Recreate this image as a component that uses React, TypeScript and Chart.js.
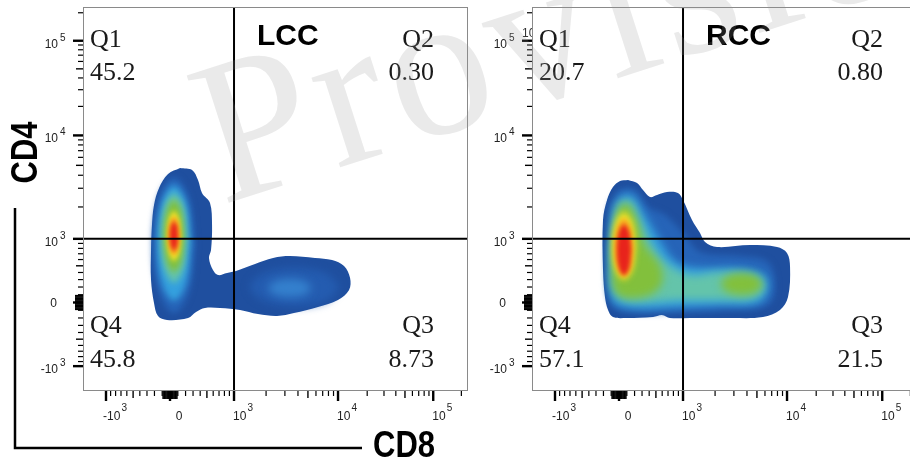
import { useEffect, useRef } from 'react';
import { Chart, registerables } from 'chart.js';

// ---------------- data ----------------
const panelTitles = ['LCC', 'RCC'];
const quadrantNames = ['Q1', 'Q2', 'Q3', 'Q4'];
const lccQuadrantValues = ['45.2', '0.30', '8.73', '45.8'];
const rccQuadrantValues = ['20.7', '0.80', '21.5', '57.1'];
const xAxisTitle = 'CD8';
const yAxisTitle = 'CD4';
const watermarkText = 'Provisional';
const gateCD8 = 1000;
const gateCD4 = 1000;

const majorTickValues = [-1000, 0, 1000, 10000, 100000];
const majorTickLabels = [['-10', '3'], ['0', ''], ['10', '3'], ['10', '4'], ['10', '5']];
const mediumTickValues = [-500, 500, 5000, 50000];
const minorTickValues = [
  -900, -800, -700, -600, -400, -300, -200, -100,
  100, 200, 300, 400, 600, 700, 800, 900,
  2000, 3000, 4000, 6000, 7000, 8000, 9000,
  20000, 30000, 40000, 60000, 70000, 80000, 90000, 200000,
];
const nearZeroTickValues = [-90, -80, -70, -60, -50, -40, -30, -20, -10, 10, 20, 30, 40, 50, 60, 70, 80, 90];

// display range (logicle display units)
const displayRangeX = [1.2585, 5.398];
const displayRangeY = [1.237, 5.389];

// density contour levels in display units [CD8, CD4]
const lccOuter = [[2.302,3.648],[2.431,3.626],[2.495,3.518],[2.538,3.378],[2.624,3.269],[2.646,3.032],[2.635,2.761],[2.613,2.675],[2.656,2.545],[2.710,2.491],[2.807,2.513],[2.904,2.534],[3.108,2.610],[3.302,2.675],[3.484,2.696],[3.753,2.675],[3.936,2.653],[4.065,2.588],[4.130,2.459],[4.119,2.329],[4.000,2.221],[3.785,2.145],[3.527,2.080],[3.345,2.048],[3.140,2.069],[2.947,2.113],[2.732,2.134],[2.570,2.134],[2.474,2.091],[2.388,2.026],[2.162,2.005],[2.065,2.048],[2.022,2.188],[1.990,2.437],[1.990,2.761],[2.000,3.032],[2.022,3.248],[2.076,3.432],[2.173,3.583]];
const lccTailMid = [[4.022,2.361],[3.880,2.216],[3.538,2.156],[3.196,2.216],[3.054,2.361],[3.196,2.506],[3.538,2.566],[3.880,2.506]];
const lccTailCore = [[3.721,2.350],[3.652,2.281],[3.484,2.253],[3.316,2.281],[3.247,2.350],[3.316,2.419],[3.484,2.447],[3.652,2.419]];
const lccMid = [[2.463,2.815],[2.397,2.295],[2.237,2.080],[2.077,2.295],[2.011,2.815],[2.077,3.335],[2.237,3.550],[2.397,3.335]];
const lccLight = [[2.420,2.837],[2.366,2.394],[2.237,2.210],[2.108,2.394],[2.054,2.837],[2.108,3.280],[2.237,3.464],[2.366,3.280]];
const lccCyan = [[2.377,2.891],[2.336,2.547],[2.237,2.405],[2.138,2.547],[2.097,2.891],[2.138,3.235],[2.237,3.377],[2.336,3.235]];
const lccGreen = [[2.345,2.913],[2.313,2.638],[2.237,2.524],[2.161,2.638],[2.129,2.913],[2.161,3.188],[2.237,3.302],[2.313,3.188]];
const lccYellow = [[2.312,2.913],[2.290,2.722],[2.237,2.643],[2.184,2.722],[2.162,2.913],[2.184,3.104],[2.237,3.183],[2.290,3.104]];
const lccOrange = [[2.296,2.913],[2.279,2.768],[2.237,2.708],[2.195,2.768],[2.178,2.913],[2.195,3.058],[2.237,3.118],[2.279,3.058]];
const lccRed = [[2.280,2.913],[2.267,2.806],[2.237,2.762],[2.207,2.806],[2.194,2.913],[2.207,3.020],[2.237,3.064],[2.267,3.020]];

const rccOuter = [[2.291,3.518],[2.388,3.486],[2.452,3.410],[2.527,3.334],[2.603,3.356],[2.710,3.388],[2.828,3.378],[2.882,3.302],[2.979,3.086],[3.065,2.945],[3.119,2.848],[3.248,2.794],[3.603,2.815],[3.893,2.794],[4.000,2.729],[4.033,2.578],[4.011,2.253],[3.925,2.113],[3.742,2.037],[3.388,2.026],[2.957,2.026],[2.742,2.026],[2.656,2.059],[2.560,2.037],[2.280,2.026],[2.129,2.037],[2.076,2.113],[2.043,2.253],[2.022,2.545],[2.022,3.086],[2.065,3.302],[2.129,3.442],[2.205,3.507]];
const rccMid = [[2.087,3.248],[2.205,3.410],[2.366,3.410],[2.506,3.226],[2.689,3.140],[2.904,2.923],[3.065,2.740],[3.495,2.696],[3.796,2.632],[3.872,2.383],[3.796,2.167],[3.388,2.113],[2.850,2.091],[2.312,2.091],[2.119,2.167],[2.065,2.545]];
const rccLight = [[2.119,3.140],[2.205,3.334],[2.334,3.356],[2.474,3.140],[2.635,2.869],[2.807,2.632],[3.065,2.567],[3.495,2.567],[3.764,2.491],[3.796,2.329],[3.689,2.188],[3.280,2.167],[2.850,2.145],[2.312,2.134],[2.119,2.221],[2.087,2.653]];
const rccCyan = [[2.129,3.032],[2.205,3.269],[2.312,3.291],[2.420,3.086],[2.549,2.815],[2.689,2.632],[2.957,2.491],[3.280,2.523],[3.656,2.480],[3.753,2.361],[3.656,2.242],[3.280,2.221],[2.850,2.221],[2.312,2.199],[2.151,2.296],[2.108,2.653]];
const rccGreen = [[2.140,2.978],[2.194,3.226],[2.291,3.259],[2.388,3.086],[2.474,2.815],[2.635,2.599],[2.656,2.405],[2.527,2.275],[2.259,2.242],[2.140,2.329],[2.119,2.653]];
const rccTailGreen = [[3.743,2.394],[3.677,2.310],[3.517,2.275],[3.357,2.310],[3.291,2.394],[3.357,2.478],[3.517,2.513],[3.677,2.478]];
const rccYellow = [[2.377,2.805],[2.339,2.545],[2.248,2.437],[2.157,2.545],[2.119,2.805],[2.157,3.065],[2.248,3.173],[2.339,3.065]];
const rccOrange = [[2.345,2.783],[2.317,2.561],[2.248,2.469],[2.179,2.561],[2.151,2.783],[2.179,3.005],[2.248,3.097],[2.317,3.005]];
const rccRed = [[2.323,2.761],[2.301,2.570],[2.248,2.491],[2.195,2.570],[2.173,2.761],[2.195,2.952],[2.248,3.031],[2.301,2.952]];

// ---------------- styles ----------------
const C_OUTER = 'rgb(31,79,159)';
const C_MID = 'rgb(38,100,184)';
const C_TAILMID = 'rgb(36,92,176)';
const C_TAILCORE = 'rgb(52,128,205)';
const C_LIGHT = 'rgb(52,160,222)';
const C_CYAN = 'rgb(100,196,170)';
const C_GREEN = 'rgb(130,192,60)';
const C_YELLOW = 'rgb(244,226,40)';
const C_ORANGE = 'rgb(246,150,30)';
const C_RED = 'rgb(232,35,28)';

const panelLevels = [
  [
    { pts: lccOuter, color: C_OUTER, blur: 0 },
    { pts: lccTailMid, color: C_TAILMID, blur: 4 },
    { pts: lccTailCore, color: C_TAILCORE, blur: 4 },
    { pts: lccMid, color: C_MID, blur: 3 },
    { pts: lccLight, color: C_LIGHT, blur: 3 },
    { pts: lccCyan, color: C_CYAN, blur: 3 },
    { pts: lccGreen, color: C_GREEN, blur: 3 },
    { pts: lccYellow, color: C_YELLOW, blur: 2.5 },
    { pts: lccOrange, color: C_ORANGE, blur: 2 },
    { pts: lccRed, color: C_RED, blur: 2 },
  ],
  [
    { pts: rccOuter, color: C_OUTER, blur: 0 },
    { pts: rccMid, color: C_MID, blur: 3 },
    { pts: rccLight, color: C_LIGHT, blur: 4 },
    { pts: rccCyan, color: C_CYAN, blur: 4 },
    { pts: rccGreen, color: C_GREEN, blur: 4 },
    { pts: rccTailGreen, color: C_GREEN, blur: 4 },
    { pts: rccYellow, color: C_YELLOW, blur: 3 },
    { pts: rccOrange, color: C_ORANGE, blur: 2.5 },
    { pts: rccRed, color: C_RED, blur: 2 },
  ],
];

// ---------------- logicle transform ----------------
const LOGICLE_C = 146.8;
const LOGICLE_P = 2.5;
const ZERO_DISPLAY = 2.194;
function logicleS(u: number) {
  const a = Math.abs(u);
  const p2 = LOGICLE_P * LOGICLE_P;
  const v = LOGICLE_C * (Math.pow(10, a) - p2 * Math.pow(10, -a / LOGICLE_P) + p2 - 1);
  return u < 0 ? -v : v;
}
function toDisplay(x: number) {
  let lo = -5, hi = 6;
  for (let i = 0; i < 80; i++) {
    const m = (lo + hi) / 2;
    if (logicleS(m) < x) lo = m; else hi = m;
  }
  return ZERO_DISPLAY + (lo + hi) / 2;
}

const blurPlugin = {
  id: 'densityBlur',
  beforeDatasetDraw(chart: any, args: any) {
    const ds = chart.data.datasets[args.index];
    if (ds && ds.blurRadius) {
      chart.ctx.save();
      chart.ctx.filter = `blur(${ds.blurRadius}px)`;
    }
  },
  afterDatasetDraw(chart: any, args: any) {
    const ds = chart.data.datasets[args.index];
    if (ds && ds.blurRadius) chart.ctx.restore();
  },
};
Chart.register(blurPlugin);
Chart.register(...registerables);

const SANS = '"Liberation Sans", Arial, sans-serif';
const SERIF = '"Liberation Serif", "Times New Roman", serif';

function drawWatermark(ctx: CanvasRenderingContext2D, offsetX: number) {
  ctx.save();
  ctx.translate(222 - offsetX, 205);
  ctx.rotate(-0.31);
  ctx.font = `205px ${SERIF}`;
  (ctx as any).letterSpacing = '6px';
  ctx.fillStyle = 'rgba(150,150,150,0.2)';
  ctx.textAlign = 'left';
  ctx.textBaseline = 'alphabetic';
  ctx.fillText(watermarkText, 0, 0);
  ctx.restore();
}

function makePlugin(index: number, offsetX: number) {
  return {
    id: 'flowAxes' + index,
    afterDraw(chart: any) {
      const ctx: CanvasRenderingContext2D = chart.ctx;
      const a = chart.chartArea;
      const xs = chart.scales.x;
      const ys = chart.scales.y;
      const xp = (v: number) => xs.getPixelForValue(toDisplay(v));
      const yp = (v: number) => ys.getPixelForValue(toDisplay(v));
      ctx.save();
      // frame
      ctx.strokeStyle = '#8a8a8a';
      ctx.lineWidth = 1;
      ctx.strokeRect(a.left + 0.5, a.top + 0.5, a.right - a.left - 1, a.bottom - a.top - 1);
      // ticks
      ctx.strokeStyle = '#000';
      const tick = (v: number, len: number, w: number) => {
        const px = xp(v);
        if (px >= a.left - 1 && px <= a.right + 1) {
          ctx.lineWidth = w;
          ctx.beginPath();
          ctx.moveTo(px, a.bottom);
          ctx.lineTo(px, a.bottom + len);
          ctx.stroke();
        }
        const py = yp(v);
        if (py >= a.top - 1 && py <= a.bottom + 1) {
          ctx.lineWidth = w;
          ctx.beginPath();
          ctx.moveTo(a.left, py);
          ctx.lineTo(a.left - len, py);
          ctx.stroke();
        }
      };
      minorTickValues.forEach((v) => tick(v, 5, 1.2));
      nearZeroTickValues.forEach((v) => tick(v, 8, 1.2));
      mediumTickValues.forEach((v) => tick(v, 7, 1.4));
      majorTickValues.forEach((v) => tick(v, 10, 2.4));
      // tick labels
      ctx.fillStyle = '#222';
      ctx.textBaseline = 'alphabetic';
      majorTickValues.forEach((v, i) => {
        const [base, sup] = majorTickLabels[i];
        ctx.font = `12px ${SANS}`;
        const wb = ctx.measureText(base).width;
        ctx.font = `10px ${SANS}`;
        const ws = sup ? ctx.measureText(sup).width + 1 : 0;
        // x axis
        const px = xp(v);
        const left = px + 9 - (wb + ws) / 2;
        ctx.textAlign = 'left';
        ctx.font = `12px ${SANS}`;
        ctx.fillText(base, left, a.bottom + 29);
        if (sup) {
          ctx.font = `10px ${SANS}`;
          ctx.fillText(sup, left + wb + 1, a.bottom + 20);
        }
        // y axis
        const py = yp(v);
        if (sup) {
          ctx.font = `12px ${SANS}`;
          ctx.textAlign = 'right';
          ctx.fillText(base, a.left - 25, py + 7);
          ctx.font = `10px ${SANS}`;
          ctx.textAlign = 'left';
          ctx.fillText(sup, a.left - 23, py);
        } else {
          ctx.font = `12px ${SANS}`;
          ctx.textAlign = 'center';
          ctx.fillText(base, a.left - 29.5, py + 4.5);
        }
      });
      // quadrant labels
      const vals = index === 0 ? lccQuadrantValues : rccQuadrantValues;
      ctx.fillStyle = '#1a1a1a';
      ctx.font = `26px ${SERIF}`;
      ctx.textAlign = 'left';
      ctx.fillText(quadrantNames[0], a.left + 7, a.top + 40);
      ctx.fillText(vals[0], a.left + 7, a.top + 73);
      ctx.fillText(quadrantNames[3], a.left + 7, a.top + 326);
      ctx.fillText(vals[3], a.left + 7, a.top + 360);
      ctx.textAlign = 'right';
      ctx.fillText(quadrantNames[1], a.left + 351, a.top + 40);
      ctx.fillText(vals[1], a.left + 351, a.top + 73);
      ctx.fillText(quadrantNames[2], a.left + 351, a.top + 326);
      ctx.fillText(vals[2], a.left + 351, a.top + 360);
      // title
      ctx.fillStyle = '#000';
      ctx.font = `bold 30px ${SANS}`;
      ctx.textAlign = 'left';
      ctx.fillText(panelTitles[index], xp(gateCD8) + 23, a.top + 38);

      if (index === 0) {
        // outer axis titles with L-shaped bracket
        ctx.strokeStyle = '#000';
        ctx.lineWidth = 2.5;
        ctx.beginPath();
        ctx.moveTo(15, 208);
        ctx.lineTo(15, 448);
        ctx.lineTo(362, 448);
        ctx.stroke();
        ctx.fillStyle = '#000';
        ctx.font = `bold 31px ${SANS}`;
        ctx.save();
        ctx.translate(373, 457);
        ctx.scale(1, 1.2);
        ctx.textAlign = 'left';
        ctx.fillText(xAxisTitle, 0, 0);
        ctx.restore();
        ctx.save();
        ctx.translate(37, 152.5);
        ctx.rotate(-Math.PI / 2);
        ctx.scale(1, 1.2);
        ctx.textAlign = 'center';
        ctx.fillText(yAxisTitle, 0, 0);
        ctx.restore();
      } else {
        // partially hidden label fragment behind the frame
        ctx.save();
        ctx.beginPath();
        ctx.rect(0, 0, a.left, a.top + 40);
        ctx.clip();
        ctx.fillStyle = '#333';
        ctx.font = `12px ${SANS}`;
        ctx.textAlign = 'left';
        ctx.fillText('10', a.left - 10, a.top + 30);
        ctx.restore();
      }
      ctx.restore();
      drawWatermark(ctx, offsetX);
    },
  };
}

function makeConfig(index: number, offsetX: number, padding: any): any {
  const xg = toDisplay(gateCD8);
  const yg = toDisplay(gateCD4);
  const datasets: any[] = [
    {
      data: [{ x: xg, y: displayRangeY[0] }, { x: xg, y: displayRangeY[1] }],
      borderColor: '#000', borderWidth: 2, pointRadius: 0, fill: false, tension: 0, order: 0,
    },
    {
      data: [{ x: displayRangeX[0], y: yg }, { x: displayRangeX[1], y: yg }],
      borderColor: '#000', borderWidth: 2, pointRadius: 0, fill: false, tension: 0, order: 0,
    },
  ];
  panelLevels[index].forEach((lv, i) => {
    const pts = lv.pts.map((p) => ({ x: p[0], y: p[1] }));
    pts.push({ x: lv.pts[0][0], y: lv.pts[0][1] });
    datasets.push({
      data: pts,
      backgroundColor: lv.color,
      borderColor: 'rgba(0,0,0,0)',
      borderWidth: 1,
      pointRadius: 0,
      fill: 'shape',
      tension: 0.35,
      order: 100 - i,
      blurRadius: lv.blur,
    });
  });
  return {
    type: 'line',
    data: { datasets },
    options: {
      responsive: false,
      maintainAspectRatio: false,
      animation: false,
      events: [],
      layout: { padding },
      plugins: { legend: { display: false }, tooltip: { enabled: false } },
      scales: {
        x: { type: 'linear', display: false, min: displayRangeX[0], max: displayRangeX[1] },
        y: { type: 'linear', display: false, min: displayRangeY[0], max: displayRangeY[1] },
      },
    },
    plugins: [makePlugin(index, offsetX)],
  };
}

function Panel(props: { index: number; left: number; width: number; padding: any }) {
  const ref = useRef<HTMLCanvasElement>(null);
  useEffect(() => {
    const chart = new Chart(ref.current as HTMLCanvasElement, makeConfig(props.index, props.left, props.padding));
    return () => chart.destroy();
  }, []);
  return (
    <canvas
      ref={ref}
      width={props.width}
      height={463}
      style={{ position: 'absolute', left: props.left, top: 0, width: props.width, height: 463 }}
    />
  );
}

export default function App() {
  return (
    <div style={{ position: 'fixed', left: 0, top: 0, width: 910, height: 463, overflow: 'hidden', background: '#fff' }}>
      <Panel index={0} left={0} width={475} padding={{ left: 83, right: 7, top: 7, bottom: 72 }} />
      <Panel index={1} left={475} width={442} padding={{ left: 57, right: 0, top: 7, bottom: 72 }} />
    </div>
  );
}
